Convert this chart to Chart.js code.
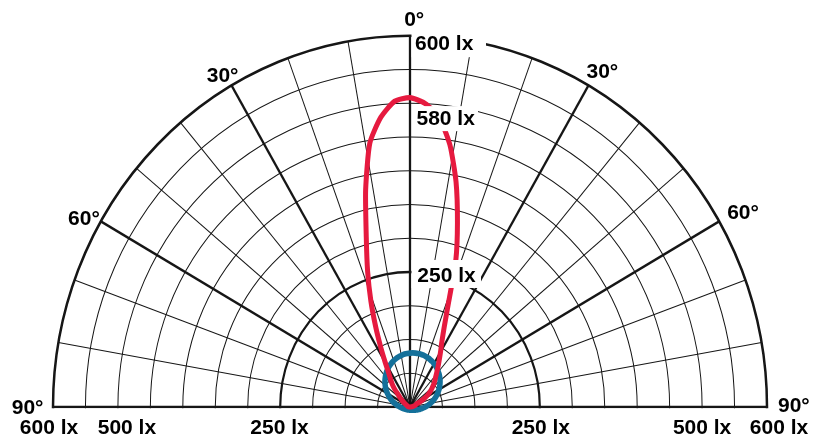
<!DOCTYPE html>
<html>
<head>
<meta charset="utf-8">
<script src="https://cdn.jsdelivr.net/npm/chart.js@4.4.1/dist/chart.umd.min.js"></script>
<style>
  html, body { margin: 0; padding: 0; background: #fff; overflow: hidden; }
  #wrap { position: relative; width: 815px; height: 443px; overflow: hidden; }
  canvas { display: block; }
</style>
</head>
<body>
<div id="wrap"><canvas id="c" width="815" height="764"></canvas></div>
<script>
// Angular categories of the radar (degrees from the vertical, clockwise), 3° apart
const ANGLES = [
  -90, -87, -84, -81, -78, -75, -72, -69, -66, -63,
  -60, -57, -54, -51, -48, -45, -42, -39, -36, -33,
  -30, -27, -24, -21, -18, -15, -12, -9, -6, -3,
  0, 3, 6, 9, 12, 15, 18, 21, 24, 27,
  30, 33, 36, 39, 42, 45, 48, 51, 54, 57,
  60, 63, 66, 69, 72, 75, 78, 81, 84, 87,
  90, 93, 96, 99, 102, 105, 108, 111, 114, 117,
  120, 123, 126, 129, 132, 135, 138, 141, 144, 147,
  150, 153, 156, 159, 162, 165, 168, 171, 174, 177,
  180, 183, 186, 189, 192, 195, 198, 201, 204, 207,
  210, 213, 216, 219, 222, 225, 228, 231, 234, 237,
  240, 243, 246, 249, 252, 255, 258, 261, 264, 267
];

// Spokes of the polar grid, every 10°
const SPOKE_ANGLES = [
  -90, -80, -70, -60, -50, -40, -30, -20, -10, 0,
  10, 20, 30, 40, 50, 60, 70, 80, 90, 100,
  110, 120, 130, 140, 150, 160, 170, 180, 190, 200,
  210, 220, 230, 240, 250, 260
];

// Narrow beam (lx), from -90° to +90°
const RED_LX = [
  50.0, 50.6, 51.4, 52.0, 52.6, 53.4, 54.0, 54.6, 55.2, 55.9,
  57.4, 59.7, 62.2, 66.2, 70.7, 75.2, 84.9, 93.4, 101.1, 110.5,
  126.4, 149.2, 179.9, 218.2, 261.4, 310.3, 378.7, 445.8, 481.3, 503.5,
  508.3, 500.0, 481.2, 443.1, 391.1, 332.4, 278.4, 215.7, 179.6, 158.0,
  144.1, 132.6, 123.3, 115.3, 108.9, 103.7, 98.5, 93.2, 88.0, 82.3,
  75.8, 68.8, 61.0, 59.7, 58.3, 56.9, 55.6, 54.2, 52.8, 51.4,
  50.0
];

// Small round lobe around the source (lx), full turn from -90°
const BLUE_LX = [
  65.7, 67.4, 69.3, 71.4, 73.7, 76.1, 78.7, 81.5, 84.3, 87.2,
  90.2, 93.1, 96.0, 98.9, 101.8, 104.6, 107.2, 109.8, 112.3, 114.7,
  116.9, 118.9, 120.8, 122.6, 124.2, 125.6, 126.9, 127.9, 128.8, 129.4,
  129.9, 130.2, 130.3, 130.2, 129.9, 129.4, 128.7, 127.8, 126.7, 125.5,
  124.0, 122.5, 120.7, 118.7, 116.7, 114.4, 112.1, 109.6, 107.0, 104.3,
  101.5, 98.6, 95.7, 92.8, 89.8, 86.9, 84.0, 81.2, 78.5, 75.9,
  73.4, 71.2, 69.1, 67.2, 65.6, 64.1, 62.8, 61.7, 60.7, 59.9,
  59.2, 58.5, 58.0, 57.5, 57.1, 56.8, 56.4, 56.2, 55.9, 55.7,
  55.5, 55.3, 55.2, 55.1, 55.0, 54.9, 54.8, 54.7, 54.7, 54.6,
  54.6, 54.6, 54.6, 54.6, 54.6, 54.6, 54.7, 54.7, 54.8, 54.9,
  55.0, 55.1, 55.2, 55.4, 55.5, 55.7, 55.9, 56.2, 56.5, 56.8,
  57.2, 57.6, 58.1, 58.6, 59.2, 60.0, 60.8, 61.8, 62.9, 64.2
];

// Tick labels
const DEGREE_MARKS = [0, 30, 60, 90];
const BASE_LX_MARKS = [250, 500, 600];
const AXIS_LX_MARKS = [600, 250];
const PEAK_TEXT = '580 lx';

// Radial scale: 50 lx at the centre, one ring per 50 lx
const R_MIN = 50, R_MAX = 600, R_STEP = 50;

// Layout
const CX = 410, CY = 407, RADIUS = 357, Y_STRETCH = 1.04;
const RED = '#e61a3f', BLUE = '#14709a', INK = '#161616';
const FONT = 'bold 21px "Liberation Sans", Arial, Helvetica, sans-serif';

const placeScale = (s) => { s.xCenter = CX; s.yCenter = CY; s.drawingArea = RADIUS; };
const stretch = (ctx) => { ctx.translate(0, CY); ctx.scale(1, Y_STRETCH); ctx.translate(0, -CY); };

const halfDisk = {
  id: 'halfDisk',
  beforeDraw(chart) {
    const ctx = chart.ctx;
    ctx.save();
    ctx.beginPath();
    ctx.rect(0, 0, chart.width, CY + 1.3);
    ctx.clip();
    stretch(ctx);
  },
  beforeDatasetsDraw(chart) {
    const ctx = chart.ctx;
    ctx.restore();
    ctx.save();
    stretch(ctx);
  },
  afterDatasetsDraw(chart) {
    chart.ctx.restore();
  },
  afterDraw(chart) {
    const ctx = chart.ctx;
    const g = chart.scales.g;
    const page = (p) => ({ x: p.x, y: g.yCenter + (p.y - g.yCenter) * Y_STRETCH });
    const end = (a) => page(g.getPointPosition(SPOKE_ANGLES.indexOf(a), g.drawingArea));
    const ring = (v) => g.getDistanceFromCenterForValue(v);

    ctx.save();
    ctx.font = FONT;
    ctx.textBaseline = 'alphabetic';
    const text = (s, x, y, align) => { ctx.fillStyle = '#000'; ctx.textAlign = align; ctx.fillText(s, x, y); };
    const box = (x0, y0, x1, y1) => { ctx.fillStyle = '#fff'; ctx.fillRect(x0, y0, x1 - x0, y1 - y0); };

    // degree marks at the rim
    const degPlace = {
      '0':   (p) => text(DEGREE_MARKS[0] + '°', p.x - ctx.measureText('0').width / 2, p.y - 9.7, 'left'),
      '-30': (p) => text(DEGREE_MARKS[1] + '°', p.x + 7, p.y - 3, 'right'),
      '30':  (p) => text(DEGREE_MARKS[1] + '°', p.x - 2, p.y - 7.6, 'left'),
      '-60': (p) => text(DEGREE_MARKS[2] + '°', p.x - 1, p.y + 3.6, 'right'),
      '60':  (p) => text(DEGREE_MARKS[2] + '°', p.x + 8, p.y - 2.4, 'left'),
      '-90': (p) => text(DEGREE_MARKS[3] + '°', p.x - 9.5, p.y + 7, 'right'),
      '90':  (p) => text(DEGREE_MARKS[3] + '°', p.x + 11, p.y + 5, 'left')
    };
    Object.keys(degPlace).forEach((k) => degPlace[k](end(Number(k))));

    // lx marks along the base line
    const baseY = g.yCenter + 26.5;
    const shift = { 600: [-4, 12], 500: [9, 0], 250: [-0.7, 1] };
    BASE_LX_MARKS.forEach((v) => {
      const d = ring(v);
      text(v + ' lx', g.xCenter - d + shift[v][0], baseY, 'center');
      text(v + ' lx', g.xCenter + d + shift[v][1], baseY, 'center');
    });

    // lx marks on the vertical axis, on white plates
    AXIS_LX_MARKS.forEach((v) => {
      const y = g.yCenter - ring(v) * Y_STRETCH;
      const x = g.xCenter;
      if (v === R_MAX) {
        box(x + 1.5, y - 3, x + 76, y + 21.5);
        text(v + ' lx', x + 5, y + 13.8, 'left');
      } else {
        box(x + 1.5, y - 12, x + 71, y + 16);
        text(v + ' lx', x + 7.3, y + 10, 'left');
      }
    });

    // peak callout just below the top of the beam
    const pk = page(chart.getDatasetMeta(0).data[ANGLES.indexOf(0)]);
    box(pk.x + 2.5, pk.y + 8.5, pk.x + 68, pk.y + 33.5);
    text(PEAK_TEXT, pk.x + 6.5, pk.y + 27.5, 'left');

    ctx.restore();
  }
};

const hiddenParts = {
  grid: { display: false },
  angleLines: { display: false },
  ticks: { display: false, stepSize: R_STEP },
  pointLabels: { display: false }
};

new Chart(document.getElementById('c'), {
  type: 'radar',
  data: {
    labels: ANGLES,
    datasets: [
      {
        label: 'Beam',
        data: ANGLES.map((a, i) => (i < RED_LX.length ? RED_LX[i] : null)),
        rAxisID: 'r',
        borderColor: RED,
        borderWidth: 5,
        borderJoinStyle: 'round',
        borderCapStyle: 'round',
        tension: 0.2,
        pointRadius: 0,
        fill: false,
        spanGaps: false,
        clip: false
      },
      {
        label: 'Near field',
        data: BLUE_LX,
        rAxisID: 'r',
        borderColor: BLUE,
        borderWidth: 5.5,
        tension: 0.3,
        pointRadius: 0,
        fill: false,
        clip: false
      }
    ]
  },
  options: {
    responsive: false,
    animation: false,
    events: [],
    layout: { padding: { left: 53, right: 48, top: 50, bottom: 0 } },
    plugins: { legend: { display: false }, tooltip: { enabled: false } },
    scales: {
      r: Object.assign({
        type: 'radialLinear',
        axis: 'r',
        min: R_MIN, max: R_MAX,
        startAngle: -90,
        afterFit: placeScale
      }, hiddenParts),
      g: {
        type: 'radialLinear',
        axis: 'r',
        min: R_MIN, max: R_MAX,
        startAngle: -90,
        labels: SPOKE_ANGLES,
        afterFit: placeScale,
        ticks: { display: false, stepSize: R_STEP },
        pointLabels: { display: false },
        grid: {
          display: true,
          circular: true,
          color: INK,
          lineWidth: (c) => (c.tick && c.tick.value === R_MAX ? 2.5 : (c.tick && c.tick.value === 250 ? 2.2 : 1))
        },
        angleLines: {
          display: true,
          color: INK,
          lineWidth: (c) => {
            const a = SPOKE_ANGLES[c.index];
            if (a > 90) return 0;
            return a % 30 === 0 ? 2.3 : 1;
          }
        }
      }
    }
  },
  plugins: [halfDisk]
});
</script>
</body>
</html>
